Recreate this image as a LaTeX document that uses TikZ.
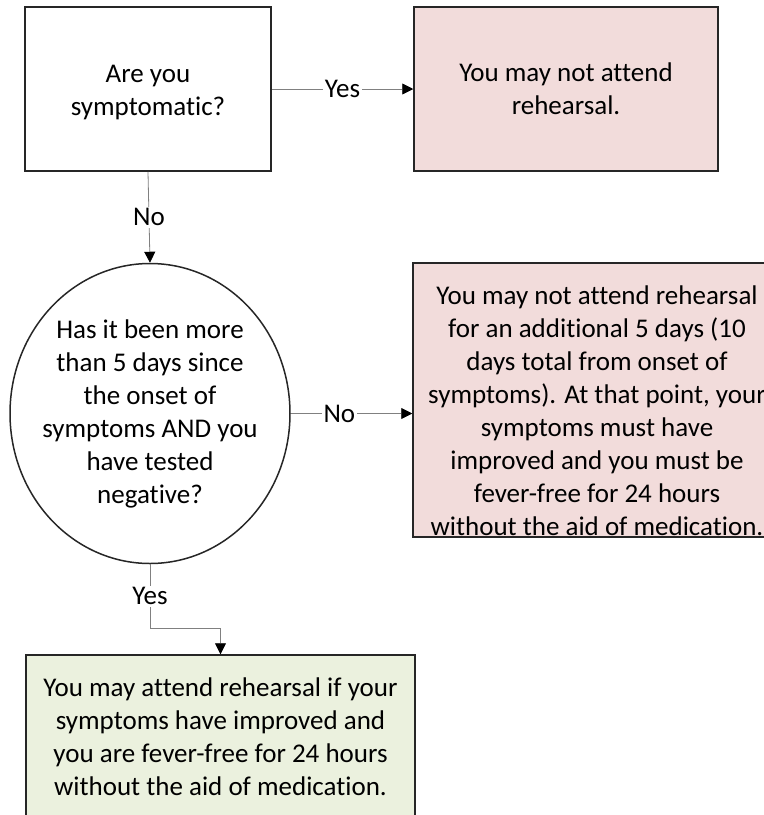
\documentclass[tikz,border=0pt]{standalone}
\usepackage{fontspec}
\setmainfont{Carlito}[Ligatures={NoCommon,NoContextual},Contextuals=NoAlternate]
\usetikzlibrary{shapes.geometric,arrows.meta}
\definecolor{pinkfill}{HTML}{F2DCDB}
\definecolor{greenfill}{HTML}{EBF1DE}
\definecolor{edgegray}{HTML}{262626}
\begin{document}
\begin{tikzpicture}[x=1pt,y=-1pt,
	box/.style={draw=edgegray,line width=1.5pt,rectangle,align=center,inner sep=0pt,
		font=\fontsize{27}{33}\selectfont},
	redbox/.style={box,fill=pinkfill},
	greenbox/.style={box,fill=greenfill},
	oval/.style={box,ellipse,inner xsep=-10pt,inner ysep=0pt},
	words/.style={align=center,inner sep=0pt,font=\fontsize{27}{33}\selectfont},
	link/.style={draw=gray,line width=0.8pt,-{Triangle[black,length=11pt,width=11pt]}},
	lbl/.style={fill=white,inner sep=1.5pt,font=\fontsize{27}{33}\selectfont}]
	\useasboundingbox (0,0) rectangle (764,815);
		\node[box,minimum width=246,minimum height=164] (symp) at (148,89) {};
		\node[words] (symptext) at (148,93) {Are you\\symptomatic?};
		\node[redbox,minimum width=304,minimum height=164] (stay) at (566,89) {You may not attend\\rehearsal.};
		\node[oval,minimum width=280,minimum height=300] (days) at (150,413.5) {Has it been more\\than 5 days since\\the onset of\\symptoms AND you\\have tested\\negative?};
		\node[redbox,minimum width=368,minimum height=274] (wait) at (597,400) {};
		\node[words] (waittext) at (597,411) {You may not attend rehearsal\\for an additional 5 days (10\\days total from onset of\\symptoms). At that point, your\\symptoms must have\\improved and you must be\\fever-free for 24 hours\\without the aid of medication.};
		\node[greenbox,minimum width=389,minimum height=164] (go) at (220.5,737) {You may attend rehearsal if your\\symptoms have improved and\\you are fever-free for 24 hours\\without the aid of medication.};
	\draw[link] (symp.east) -- (stay.west) node[lbl,midway] {Yes};
	\draw[link] (symp.south) -- (days.north) node[lbl,midway] {No};
	\draw[link] (days.east) -- (days.east -| wait.west) node[lbl,pos=0.4] {No};
	\draw[link] (days.south) -- ++(0,64) node[lbl,midway] {Yes} -| (go.north);
	\end{tikzpicture}
\end{document}
